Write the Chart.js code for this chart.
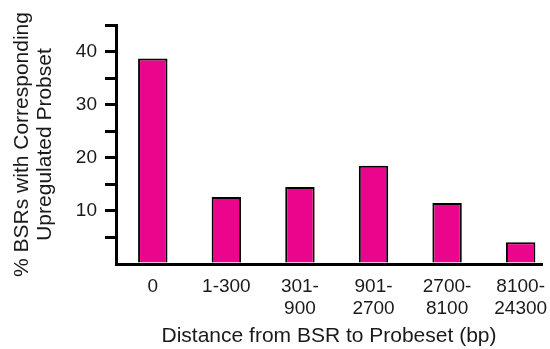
<!DOCTYPE html>
<html>
<head>
<meta charset="utf-8">
<script src="https://cdn.jsdelivr.net/npm/chart.js@4"></script>
<style>
  html, body { margin: 0; padding: 0; background: #fff; }
  #wrap { width: 550px; height: 349px; }
</style>
</head>
<body>
<div id="wrap"><canvas id="bsrChart"></canvas></div>
<script>
// distance bins in bp (two-line labels like in the figure)
const distanceBins = ['0', '1-300', ['301-', '900'], ['901-', '2700'], ['2700-', '8100'], ['8100-', '24300']];
// % of BSRs with a corresponding upregulated probeset
const pctUpregulated = [38.7, 12.6, 14.5, 18.5, 11.5, 4.1];
// y ticks every 5, but only these get a label
const yTickLabels = [10, 20, 30, 40];

const textColor = '#1a1a1a';
const fontFamily = '"Liberation Sans", Arial, Helvetica, sans-serif';

document.addEventListener('DOMContentLoaded', () => {
    const ctx = document.getElementById('bsrChart').getContext('2d');
    new Chart(ctx, {
        type: 'bar',
        data: {
            datasets: [{
                data: pctUpregulated.map((v, i) => ({ x: i, y: v })),
                backgroundColor: '#EB058C',
                borderColor: '#000',
                borderWidth: 2,
                categoryPercentage: 1,
                barPercentage: 0.4
            }]
        },
        options: {
            responsive: true,
            maintainAspectRatio: false,
            animation: false,
            layout: { padding: { top: 25, right: 8, left: 0, bottom: 0 } },
            plugins: { legend: { display: false }, tooltip: { enabled: false } },
            scales: {
                x: {
                    type: 'linear',
                    bounds: 'data',
                    offset: false,
                    min: -0.5,
                    max: 5.29,
                    grid: { display: false },
                    border: { display: true, color: '#000', width: 3 },
                    afterBuildTicks: axis => {
                        axis.ticks = distanceBins.map((_, i) => ({ value: i }));
                    },
                    afterFit: axis => {
                        axis.height = 85;
                        axis.paddingLeft = 0;
                        axis.paddingRight = 0;
                    },
                    ticks: {
                        autoSkip: false,
                        maxRotation: 0,
                        padding: 4,
                        color: textColor,
                        font: { family: fontFamily, size: 19, lineHeight: 1.15 },
                        callback: v => distanceBins[v]
                    },
                    title: {
                        display: true,
                        text: 'Distance from BSR to Probeset (bp)',
                        color: textColor,
                        font: { family: fontFamily, size: 21, lineHeight: 1.2 },
                        padding: { top: 0, bottom: 0 }
                    }
                },
                y: {
                    min: 0,
                    max: 45,
                    grid: {
                        drawOnChartArea: false,
                        drawTicks: true,
                        tickLength: 11,
                        lineWidth: 3,
                        color: c => (c.tick && c.tick.value === 0) ? 'rgba(0,0,0,0)' : '#000'
                    },
                    border: { display: true, color: '#000', width: 3 },
                    afterFit: axis => {
                        axis.width = 116;
                        axis.paddingTop = 0;
                        axis.paddingBottom = 0;
                    },
                    ticks: {
                        stepSize: 5,
                        padding: 8,
                        color: textColor,
                        font: { family: fontFamily, size: 19 },
                        callback: v => yTickLabels.includes(v) ? v : ''
                    },
                    title: {
                        display: true,
                        text: ['% BSRs with Corresponding', 'Upregulated Probset'],
                        color: textColor,
                        font: { family: fontFamily, size: 21, lineHeight: 1.12 },
                        padding: { top: 10, bottom: 0 }
                    }
                }
            }
        }
    });
});
</script>
</body>
</html>
